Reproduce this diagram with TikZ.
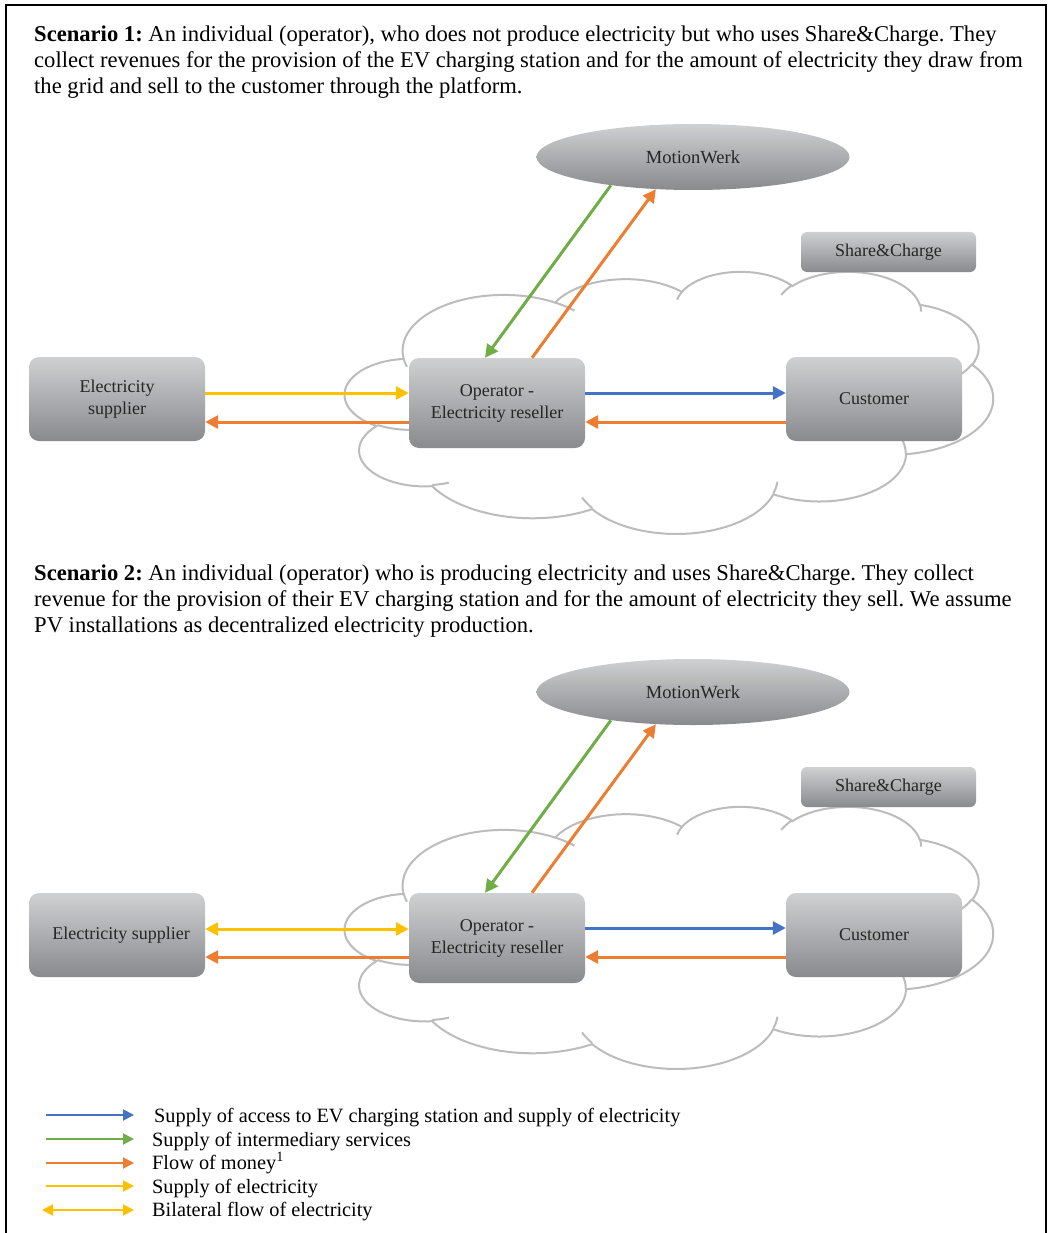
\documentclass[tikz,border=0pt]{standalone}
\usepackage{fontspec}
\setmainfont{Liberation Serif}
\usetikzlibrary{arrows.meta,shapes.geometric}
\frenchspacing
\definecolor{cblue}{HTML}{4472C4}
\definecolor{cgreen}{HTML}{70AD47}
\definecolor{corange}{HTML}{ED7D31}
\definecolor{cyellow}{HTML}{FFC000}
\definecolor{boxtop}{RGB}{207,208,210}
\definecolor{boxbot}{RGB}{137,138,142}
\definecolor{cloudline}{RGB}{188,188,188}
\definecolor{boxtext}{RGB}{38,38,38}
\def\carc#1#2#3#4{arc[x radius=#1, y radius=#2, start angle={atan2((#1)*sin(#3),(#2)*cos(#3))}, delta angle={mod(atan2((#1)*sin((#3)+(#4)),(#2)*cos((#3)+(#4)))-atan2((#1)*sin(#3),(#2)*cos(#3))+720,360)}]}
\newcommand\drawcloud[2]{%
 \begin{scope}[shift={(#1pt,-#2pt)}, x={(1.5pt,0pt)}, y={(0pt,-0.6065pt)}]
  \draw[cloudst, fill=white] (39,143.70) \carc{67.53}{91.90}{-190.48748}{123.78053}
    \carc{53.33}{72.67}{-144.10238}{89.94523}
    \carc{43.65}{59.45}{-145.80792}{99.72302}
    \carc{48.57}{65.95}{-130.98607}{117.24173}
    \carc{53.33}{72.73}{-78.70888}{109.02692}
    \carc{67.75}{92.20}{-46.26725}{130.269}
    \carc{57.85}{78.67}{0.62502}{114.03333}
    \carc{67.52}{92.15}{22.4516}{115.17255}
    \carc{77.20}{105.43}{66.24263}{75.71102}
    \carc{43.60}{59.18}{-274.94208}{146.73557}
    \carc{43.45}{59.45}{-246.8285}{152.51885} -- cycle;
  \draw[cloudst] (46.93,261.77) \carc{43.45}{59.45}{86.742}{26.4295}
    (69.28,348.99) \carc{43.60}{59.18}{73.61047}{11.44747}
    (164.78,390.90) \carc{67.52}{92.15}{137.62415}{14.0811}
    (288.27,347.51) \carc{67.52}{92.15}{6.45327}{15.99835}
    (341.29,229.54) \carc{57.85}{78.67}{-70.29235}{70.91737}
    (417.98,153.54) \carc{53.33}{72.73}{30.31803}{27.7515}
    (383.24,54.26) \carc{48.57}{65.95}{-13.74433}{14.8589}
    (290.78,39.52) \carc{48.57}{65.95}{-149.18145}{18.19537}
    (221.41,47.20) \carc{43.65}{59.45}{-163.49427}{17.68635}
    (140.00,51.92) \carc{67.53}{91.90}{-66.70695}{12.31935}
    (41.27,157.89) \carc{67.53}{91.90}{157.65435}{11.85817};
 \end{scope}}
\tikzset{
  cloudst/.style={draw=cloudline, line width=2pt},
  gbox/.style={rectangle, rounded corners=10pt, top color=boxtop, bottom color=boxbot, text=boxtext, align=center, font=\fontsize{18}{22}\selectfont, minimum width=176pt, minimum height=84pt, inner sep=0pt},
  gell/.style={ellipse, top color=boxtop, bottom color=boxbot, text=boxtext, font=\fontsize{18.5}{22}\selectfont, minimum width=313pt, minimum height=66pt, inner sep=0pt},
  arr/.style={line width=3pt, -{Triangle[length=13pt,width=13pt]}},
  larr/.style={line width=2pt, -{Triangle[length=11pt,width=11pt]}},
  body/.style={anchor=base west, inner sep=0pt, font=\fontsize{22.6}{26}\selectfont},
  leg/.style={anchor=base west, inner sep=0pt, font=\fontsize{20.3}{23}\selectfont},
}
\begin{document}
\begin{tikzpicture}[x=1pt,y=-1pt]
\useasboundingbox (0,0) rectangle (1052,1233);
\fill[white] (0,0) rectangle (1052,1233);
\draw[line width=2.5pt] (6,1233) -- (6,5) -- (1046,5) -- (1046,1233);

% ---------- Scenario 1 ----------
\node[body] (t1a) at (34,42) {\textbf{Scenario 1:} An individual (operator), who does not produce electricity but who uses Share\&Charge. They};
\node[body] (t1b) at (34,68) {collect revenues for the provision of the EV charging station and for the amount of electricity they draw from};
\node[body] (t1c) at (34,94) {the grid and sell to the customer through the platform.};

\drawcloud{345}{271}
\node[gell] (mw1) at (693,157) {MotionWerk};
\node[gbox, rounded corners=6pt, minimum width=175pt, minimum height=40pt] (sc1) at (888.5,252) {Share\&Charge};
\node[gbox] (sup1) at (117,399) {Electricity\\supplier};
\node[gbox, minimum height=90pt] (op1) at (497,403) {Operator -\\Electricity reseller};
\node[gbox] (cus1) at (874,399) {Customer};

\draw[arr, cyellow] ([yshift=6pt]sup1.east) -- ([yshift=6pt]sup1.east -| op1.west);
\draw[arr, corange] ([yshift=-19pt]op1.west) -- ([yshift=-19pt]op1.west -| sup1.east);
\draw[arr, cblue] ([yshift=10pt]op1.east) -- ([yshift=10pt]op1.east -| cus1.west);
\draw[arr, corange] ([yshift=-23pt]cus1.west) -- ([yshift=-23pt]cus1.west -| op1.east);
\draw[arr, cgreen] (mw1.199.5) -- ([xshift=-12pt]op1.north);
\draw[arr, corange] ([xshift=35pt]op1.north) -- (mw1.221);

% ---------- Scenario 2 ----------
\node[body] (t2a) at (34,580) {\textbf{Scenario 2:} An individual (operator) who is producing electricity and uses Share\&Charge. They collect};
\node[body] (t2b) at (34,606) {revenue for the provision of their EV charging station and for the amount of electricity they sell. We assume};
\node[body] (t2c) at (34,632) {PV installations as decentralized electricity production.};

\drawcloud{345}{806}
\node[gell] (mw2) at (693,692) {MotionWerk};
\node[gbox, rounded corners=6pt, minimum width=175pt, minimum height=40pt] (sc2) at (888.5,787) {Share\&Charge};
\node[gbox] (sup2) at (117,935) {\hspace*{8pt}Electricity supplier};
\node[gbox, minimum height=90pt] (op2) at (497,938) {Operator -\\Electricity reseller};
\node[gbox] (cus2) at (874,935) {Customer};

\draw[arr, cyellow, {Triangle[length=13pt,width=13pt]}-{Triangle[length=13pt,width=13pt]}] ([yshift=6pt]sup2.east) -- ([yshift=6pt]sup2.east -| op2.west);
\draw[arr, corange] ([yshift=-19pt]op2.west) -- ([yshift=-19pt]op2.west -| sup2.east);
\draw[arr, cblue] ([yshift=10pt]op2.east) -- ([yshift=10pt]op2.east -| cus2.west);
\draw[arr, corange] ([yshift=-22pt]cus2.west) -- ([yshift=-22pt]cus2.west -| op2.east);
\draw[arr, cgreen] (mw2.199.5) -- ([xshift=-12pt]op2.north);
\draw[arr, corange] ([xshift=35pt]op2.north) -- (mw2.221);

% ---------- Legend ----------
\coordinate (l1a) at (46,1115); \coordinate (l1b) at (134,1115);
\coordinate (l2a) at (46,1139); \coordinate (l2b) at (134,1139);
\coordinate (l3a) at (46,1163); \coordinate (l3b) at (134,1163);
\coordinate (l4a) at (46,1186); \coordinate (l4b) at (134,1186);
\coordinate (l5a) at (42,1210); \coordinate (l5b) at (134,1210);
\draw[larr, cblue] (l1a) -- (l1b);
\draw[larr, cgreen] (l2a) -- (l2b);
\draw[larr, corange] (l3a) -- (l3b);
\draw[larr, cyellow] (l4a) -- (l4b);
\draw[larr, cyellow, {Triangle[length=11pt,width=11pt]}-{Triangle[length=11pt,width=11pt]}] (l5a) -- (l5b);
\node[leg] (g1) at (154,1122) {Supply of access to EV charging station and supply of electricity};
\node[leg] (g2) at (152,1146) {Supply of intermediary services};
\node[leg] (g3) at (152,1169) {Flow of money\textsuperscript{1}};
\node[leg] (g4) at (152,1193) {Supply of electricity};
\node[leg] (g5) at (152,1216) {Bilateral flow of electricity};
\end{tikzpicture}
\end{document}
